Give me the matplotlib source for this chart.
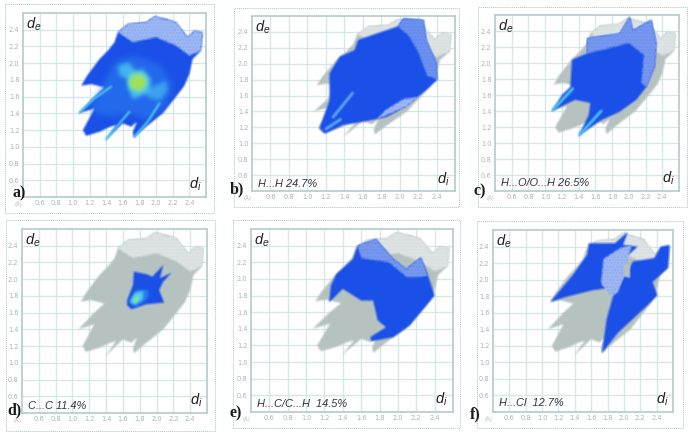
import numpy as np
import matplotlib
matplotlib.use("Agg")
import matplotlib.pyplot as plt
from matplotlib.patches import Polygon, Rectangle

# ---------- data (di, de in angstrom) ----------
ticks = [0.6, 0.8, 1.0, 1.2, 1.4, 1.6, 1.8, 2.0, 2.2, 2.4]
silhouette = [(1.10,1.73),(1.17,1.85),(1.32,2.05),(1.42,2.15),(1.50,2.25),(1.54,2.37),(1.66,2.47),(1.88,2.49),
              (1.98,2.56),(2.12,2.53),(2.24,2.49),(2.38,2.31),(2.46,2.39),(2.56,2.37),(2.54,2.15),(2.44,2.05),
              (2.40,1.87),(2.34,1.73),(2.24,1.60),(2.08,1.40),(1.88,1.24),(1.73,1.11),(1.72,1.18),(1.77,1.30),
              (1.70,1.24),(1.60,1.28),(1.39,1.08),(1.52,1.26),(1.45,1.24),(1.32,1.18),(1.16,1.13),(1.12,1.20),
              (1.26,1.46),(1.07,1.40),(1.26,1.60),(1.38,1.71),(1.22,1.75)]
sil_speckle = [(1.54,2.37),(1.66,2.47),(1.88,2.49),(1.98,2.56),(2.24,2.49),(2.38,2.31),(2.46,2.39),(2.56,2.37),
               (2.54,2.15),(2.40,2.09),(2.24,2.21),(2.00,2.31),(1.72,2.25)]
a_mid = [(1.20,1.44),(1.32,1.67),(1.52,2.03),(1.72,2.09),(2.04,1.99),(2.20,1.75),(2.12,1.48),(1.88,1.32),(1.68,1.40),(1.44,1.36)]
a_cyan_blob = [(1.54,1.97),(1.68,2.01),(1.76,1.89),(1.66,1.81),(1.56,1.85)]
a_cyan_ring = [(1.66,1.89),(1.84,1.93),(1.94,1.81),(1.92,1.65),(1.72,1.57),(1.66,1.71)]
a_cyan_arc = [(1.88,1.69),(2.12,1.79),(2.14,1.67),(2.04,1.55),(1.90,1.59)]
a_lime = [(1.66,1.77),(1.69,1.86),(1.78,1.89),(1.87,1.86),(1.90,1.77),(1.87,1.69),(1.78,1.65),(1.69,1.69)]
a_core = [(1.70,1.77),(1.72,1.83),(1.78,1.85),(1.84,1.83),(1.86,1.77),(1.84,1.71),(1.78,1.69),(1.72,1.71)]
a_streaks = [[(1.08,1.41),(1.26,1.58),(1.46,1.72)], [(1.40,1.09),(1.56,1.28),(1.68,1.42)], [(1.74,1.12),(1.90,1.30),(2.04,1.52)]]

b_blue = [(1.13,1.19),(1.19,1.12),(1.39,1.23),(1.60,1.27),(1.86,1.33),(2.07,1.46),(2.29,1.67),(2.41,1.80),(2.40,2.01),
          (2.29,2.30),(2.26,2.55),(2.04,2.57),(1.98,2.47),(1.75,2.38),(1.55,2.30),(1.51,2.17),(1.35,2.09),(1.24,1.88),(1.24,1.54)]
b_speckle1 = [(1.98,2.47),(2.04,2.57),(2.26,2.55),(2.29,2.30),(2.40,2.01),(2.41,1.80),(2.30,1.85),(2.20,2.15),(2.10,2.35)]
b_speckle2 = [(1.75,1.30),(2.07,1.46),(2.20,1.58),(2.05,1.56),(1.85,1.42)]
b_streaks = [[(1.28,1.33),(1.49,1.63)], [(1.20,1.18),(1.36,1.30)]]

c_blue = [(1.08,1.40),(1.20,1.60),(1.30,1.70),(1.32,2.04),(1.50,2.12),(1.50,2.31),(1.89,2.37),(2.01,2.58),(2.05,2.41),
          (2.27,2.54),(2.33,2.25),(2.31,1.95),(2.21,1.70),(2.09,1.54),(1.89,1.39),(1.68,1.29),(1.40,1.09),(1.52,1.35),(1.54,1.50),(1.36,1.54)]
c_speckle = [(1.50,2.31),(1.89,2.37),(2.01,2.58),(2.05,2.41),(2.27,2.54),(2.33,2.25),(2.31,1.95),(2.21,1.70),(2.15,1.75),
             (2.18,2.10),(2.00,2.25),(1.75,2.18),(1.50,2.12)]
c_streaks = [[(1.09,1.41),(1.33,1.68)], [(1.41,1.10),(1.67,1.40)]]

d_blue = [(1.65,1.75),(1.72,1.93),(1.73,2.09),(1.88,2.06),(1.95,2.03),(2.08,2.17),(2.04,2.01),(2.18,2.08),(2.08,1.97),
          (2.03,1.87),(2.09,1.72),(1.88,1.70),(1.70,1.64),(1.65,1.69)]
d_mid = [(1.67,1.72),(1.76,1.87),(1.90,1.87),(1.90,1.77),(1.76,1.67)]
d_cyan = [(1.68,1.73),(1.74,1.84),(1.84,1.86),(1.84,1.76),(1.74,1.69)]
d_lime = [(1.71,1.74),(1.75,1.80),(1.80,1.81),(1.79,1.75),(1.74,1.71)]

e_blue = [(1.25,1.72),(1.27,1.92),(1.33,2.06),(1.51,2.24),(1.56,2.40),(1.76,2.48),(1.95,2.24),(2.09,2.12),(2.25,2.26),(2.33,2.04),
          (2.40,1.80),(2.31,1.68),(2.13,1.44),(1.95,1.30),(1.71,1.25),(1.70,1.30),(1.87,1.42),(1.78,1.50),(1.73,1.74),(1.60,1.74),(1.40,1.88),(1.29,1.76)]
e_speckle = [(1.56,2.40),(1.76,2.48),(1.95,2.24),(2.09,2.12),(2.25,2.26),(2.33,2.04),(2.22,2.02),(2.10,2.02),(1.90,2.20),(1.60,2.25)]

f_blue_upper = [(1.10,1.73),(1.37,2.05),(1.55,2.30),(1.57,2.44),(1.89,2.44),(2.05,2.58),(1.99,2.42),(2.17,2.40),(2.01,2.26),(1.89,1.91),(1.61,1.87),(1.29,1.79)]
f_blue_lower = [(1.73,1.11),(1.79,1.53),(1.87,1.81),(2.11,2.22),(2.37,2.26),(2.45,2.40),(2.56,2.42),(2.54,2.14),(2.35,1.97),(2.41,1.81),(2.29,1.69),(1.93,1.36)]
f_speckle = [(1.75,2.25),(1.95,2.38),(2.10,2.42),(2.05,2.28),(2.07,2.02),(2.00,2.05),(1.93,1.85),(1.85,1.80),(1.72,1.95)]
f_gap = [(2.00,2.05),(2.07,2.02),(2.08,2.20),(2.00,2.18)]

panel_labels = ["a)", "b)", "c)", "d)", "e)", "f)"]
contact_labels = ["", "H...H 24.7%", "H...O/O...H 26.5%", "C...C 11.4%", "H...C/C...H  14.5%", "H...Cl  12.7%"]

# ---------- layout in pixels ----------
W, H = 691, 437
frames = [(23,13,206,197),(252,16,455,191),(495,15,679,191),(22,229,207,413),(251,229,453,412),(493,230,673,412)]
outers = [(5,4,214,213),(234,8,459,207),(478,7,687,207),(6,220,215,431),(233,220,460,428),(477,221,683,428)]
panel_xy = [(12,197),(230,193),(474,195),(7,414),(230,417),(470,418)]
contact_xy = [None,(258,187),(501,186),(28,409),(257,407),(499,406)]

BLUE, MID, CYAN, LIME, CORE = "#1a50e8", "#2a7cf0", "#4cc6f0", "#7fe0a8", "#a8e04c"
GRAY = "#b7c2c0"
GRID, EDGE, TICK = "#d8e6e6", "#b2cccc", "#a9b4b4"

plt.rcParams["mathtext.fontset"] = "custom"
plt.rcParams["mathtext.it"] = "Liberation Sans:italic"
plt.rcParams["hatch.linewidth"] = 0.6

def blur(radius, passes=2):
    def f(im, dpi):
        pad = 3 * radius
        out = np.pad(im, ((pad, pad), (pad, pad), (0, 0))).astype(float)
        a = out[..., 3:4]
        pm = np.concatenate([out[..., :3] * a, a], axis=2)
        k = np.ones(2 * radius + 1) / (2 * radius + 1)
        for _ in range(passes):
            for axis in (0, 1):
                pm = np.apply_along_axis(lambda v: np.convolve(v, k, mode="same"), axis, pm)
        al = pm[..., 3:4]
        rgb = np.where(al > 1e-4, pm[..., :3] / np.maximum(al, 1e-4), 0)
        return np.clip(np.concatenate([rgb, al], axis=2), 0, 1), -pad, -pad
    return f

def poly(ax, pts, fc, z, r=1, passes=1, **kw):
    p = Polygon(pts, closed=True, facecolor=fc, edgecolor="none", zorder=z, **kw)
    ax.add_patch(p)
    if r:
        p.set_agg_filter(blur(r, passes))
    return p

def speck(ax, pts, fc, dot, z):
    p = Polygon(pts, closed=True, facecolor=fc, edgecolor=dot, linewidth=0, hatch=".....", zorder=z)
    ax.add_patch(p)
    p.set_agg_filter(blur(1, 1))

def streak(ax, pts, color, lw=1.6):
    xs, ys = zip(*pts)
    l, = ax.plot(xs, ys, color=color, lw=lw, solid_capstyle="round", zorder=6)
    l.set_agg_filter(blur(1, 1))

fig = plt.figure(figsize=(W / 100, H / 100), dpi=100, facecolor="white")
axes = []
for i, (l, t, r, b) in enumerate(frames):
    ax = fig.add_axes([l / W, 1 - b / H, (r - l) / W, (b - t) / H])
    ax.set_xlim(0.4, 2.6); ax.set_ylim(0.4, 2.6)
    ax.set_xticks(ticks); ax.set_yticks(ticks)
    ax.set_xticklabels([f"{v:.1f}" for v in ticks]); ax.set_yticklabels([f"{v:.1f}" for v in ticks])
    ax.tick_params(length=0, labelsize=4.8, labelcolor=TICK, pad=2.5)
    ax.grid(True, color=GRID, lw=1.0)
    ax.set_axisbelow(True)
    for s in ax.spines.values():
        s.set_color(EDGE); s.set_linewidth(1.2)
    ax.text(0.015, 0.985, r"$\mathit{d_e}$", transform=ax.transAxes, fontsize=10.5, color="#222222", va="top", ha="left", zorder=12)
    ax.text(0.975, 0.02, r"$\mathit{d_i}$", transform=ax.transAxes, fontsize=10.5, color="#222222", va="bottom", ha="right", zorder=12)
    ax.text(-0.005, -0.025, "(Å)", transform=ax.transAxes, fontsize=3.8, color=TICK, ha="right", va="top")
    axes.append(ax)
    l0, t0, r0, b0 = outers[i]
    fig.add_artist(Rectangle((l0 / W, 1 - b0 / H), (r0 - l0) / W, (b0 - t0) / H, transform=fig.transFigure,
                             fill=False, edgecolor="#a9c6c6", lw=0.7, linestyle=(0, (1, 1))))
    x0, y0 = panel_xy[i]
    fig.text(x0 / W, 1 - y0 / H, panel_labels[i], family="Liberation Serif", weight="bold", fontsize=11.5, color="#1a1a1a", va="baseline", zorder=10)
    if contact_labels[i]:
        x1, y1 = contact_xy[i]
        fig.text(x1 / W, 1 - y1 / H, contact_labels[i], family="Liberation Sans", style="italic", fontsize=7.9, color="#333344", va="baseline", zorder=10)

# a) full fingerprint
ax = axes[0]
poly(ax, silhouette, BLUE, 3)
speck(ax, sil_speckle, "#b0c8f5", "#1f56e8", 4)
poly(ax, a_mid, MID, 5, r=3, passes=2, alpha=0.6)
for s in a_streaks:
    streak(ax, s, CYAN)
poly(ax, a_cyan_blob, CYAN, 7, r=2, passes=2, alpha=0.8)
poly(ax, a_cyan_arc, CYAN, 7, r=2, passes=2, alpha=0.6)
poly(ax, a_cyan_ring, CYAN, 7, r=2, passes=2, alpha=0.9)
poly(ax, a_lime, LIME, 8, r=2, passes=2)
poly(ax, a_core, CORE, 9, r=2, passes=2)

# gray backgrounds for b-f
for ax in axes[1:]:
    poly(ax, silhouette, GRAY, 3)
    speck(ax, sil_speckle, "#e3e9e8", "#b7c2c0", 4)

ax = axes[1]
poly(ax, b_blue, BLUE, 5)
speck(ax, b_speckle1, "#7a9cf0", "#1a50e8", 6)
speck(ax, b_speckle2, "#b4c8f5", "#1a50e8", 6)
for s in b_streaks:
    streak(ax, s, "#5fa8f2", lw=2.0)

ax = axes[2]
poly(ax, c_blue, BLUE, 5)
speck(ax, c_speckle, "#86a4f0", "#1a50e8", 6)
for s in c_streaks:
    streak(ax, s, CYAN, lw=2.0)

ax = axes[3]
poly(ax, d_blue, BLUE, 5)
poly(ax, d_mid, MID, 6, r=1, passes=2)
poly(ax, d_cyan, CYAN, 7, r=1, passes=2)
poly(ax, d_lime, LIME, 8, r=1, passes=2)

ax = axes[4]
poly(ax, e_blue, BLUE, 5)
speck(ax, e_speckle, "#86a4f0", "#1a50e8", 6)

ax = axes[5]
poly(ax, f_blue_upper, BLUE, 5)
poly(ax, f_blue_lower, BLUE, 5)
speck(ax, f_speckle, "#b4c8f5", "#1a50e8", 6)
poly(ax, f_gap, GRAY, 7)

fig.savefig("out.png", dpi=100)
